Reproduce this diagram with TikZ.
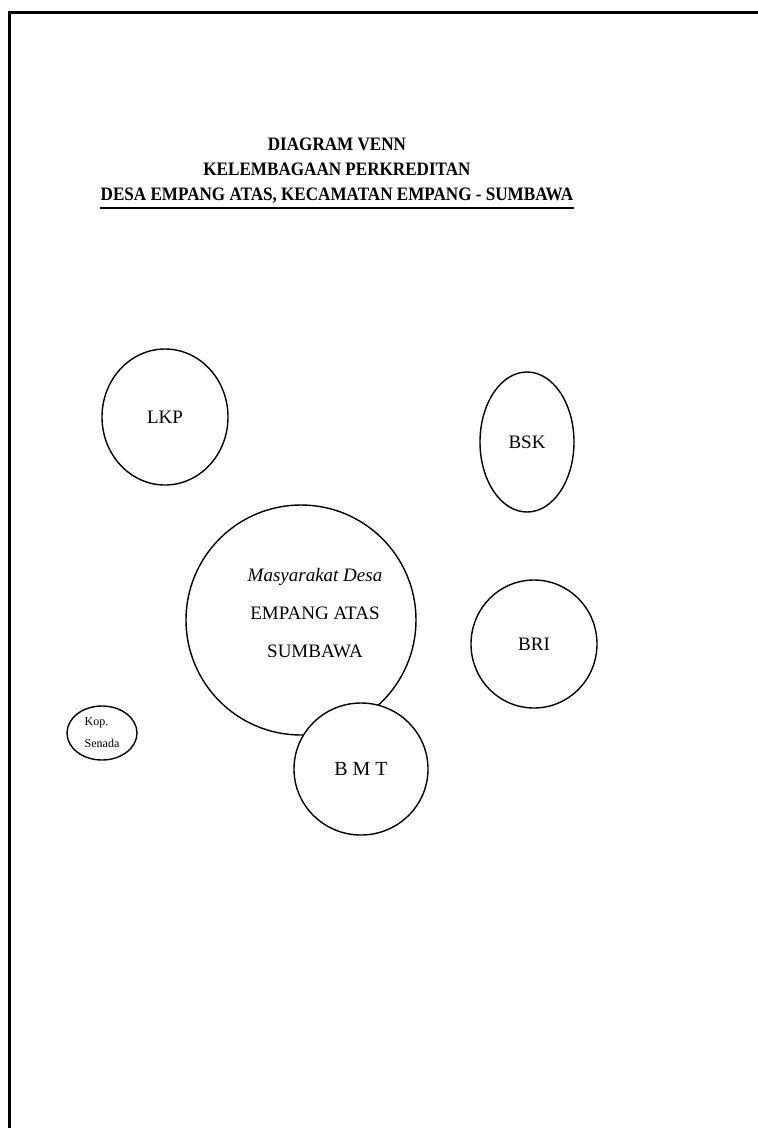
\documentclass[tikz,border=0pt]{standalone}
\usepackage{fontspec}
\setmainfont{Liberation Serif}
\usepackage{graphicx}
\usetikzlibrary{shapes.geometric, positioning}
\tikzset{
	venncircle/.style={
			shape=ellipse,
			draw=black,
			line width=1.4pt,
			fill=white,
			inner sep=0pt
		},
	titletext/.style={
			font=\fontsize{19}{22}\selectfont\bfseries,
			inner sep=0pt,
			anchor=base
		},
	labeltext/.style={
			font=\fontsize{19}{22}\selectfont
		},
	smalltext/.style={
			font=\fontsize{12}{22}\selectfont
		}
}

\begin{document}
\begin{tikzpicture}[x=1pt, y=-1pt]
	\useasboundingbox (0,0) rectangle (758,1128);
	\draw[line width=3pt] (9,1128) -- (9,12) -- (758,12);

	\node[titletext] (t1) at (337,150) {\scalebox{0.9}[1]{DIAGRAM VENN}};
	\node[titletext] (t2) at (337,175) {\scalebox{0.9}[1]{KELEMBAGAAN PERKREDITAN}};
	\node[titletext] (t3) at (337,200) {\scalebox{0.9}[1]{DESA EMPANG ATAS, KECAMATAN EMPANG - SUMBAWA}};
	\draw[line width=1.8pt] ([yshift=-8pt]t3.base west) -- ([yshift=-8pt]t3.base east);

	\node[venncircle, labeltext, minimum width=126pt, minimum height=136pt] (lkp) at (165,417) {LKP};
	\node[venncircle, labeltext, minimum width=94pt, minimum height=140pt] (bsk) at (527,442) {BSK};
	\node[venncircle, minimum width=230pt, minimum height=230pt] (desa) at (301,620) {};
	\node[labeltext, align=center, font=\fontsize{19}{38}\selectfont] (desatext) at (315,613)
		{\textit{Masyarakat Desa}\\EMPANG ATAS\\SUMBAWA};
	\node[venncircle, labeltext, minimum width=126pt, minimum height=128pt] (bri) at (534,644) {BRI};
	\node[venncircle, labeltext, font=\fontsize{20}{22}\selectfont, minimum width=134pt, minimum height=132pt] (bmt) at (361,769) {B M T};
	\node[venncircle, smalltext, align=left, minimum width=70pt, minimum height=54pt] (kop) at (102,733) {Kop.\\Senada};
\end{tikzpicture}
\end{document}
